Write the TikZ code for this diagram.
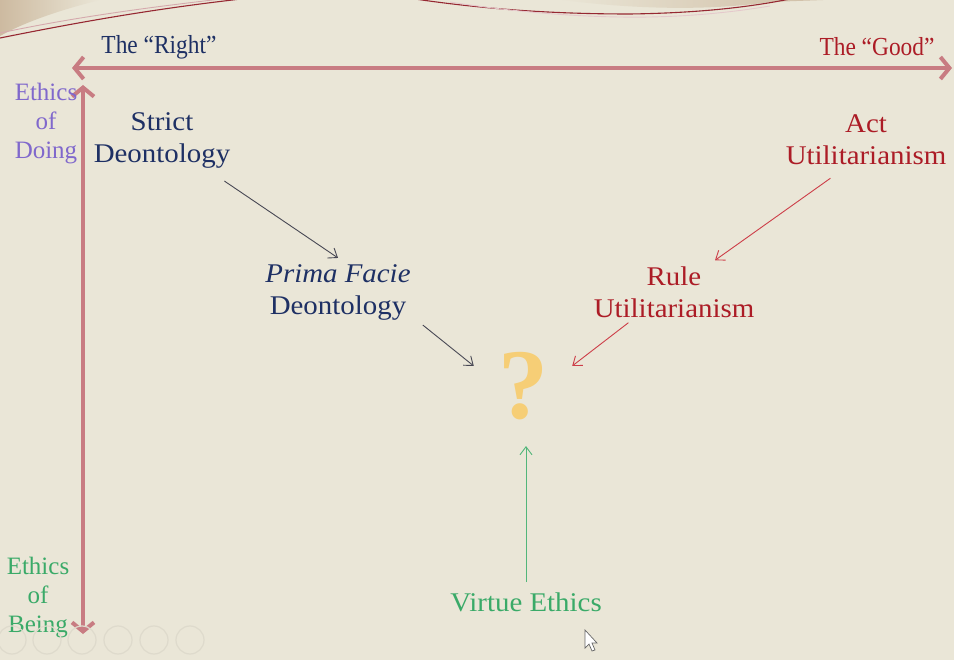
\documentclass[tikz,border=0pt]{standalone}
\usepackage{fontspec}
\setmainfont{Liberation Serif}
\newfontfamily\condfont[FakeStretch=0.9]{Liberation Serif}
\newfontfamily\widefont[FakeStretch=1.07]{Liberation Serif}
\usetikzlibrary{arrows.meta}

\definecolor{bgpaper}{RGB}{234,230,215}
\definecolor{navytext}{RGB}{30,48,100}
\definecolor{redtext}{RGB}{172,28,38}
\definecolor{purpletext}{RGB}{128,104,204}
\definecolor{greentext}{RGB}{58,170,104}
\definecolor{axisrose}{RGB}{200,124,130}
\definecolor{qgold}{RGB}{246,206,118}
\definecolor{greyarrow}{RGB}{72,72,84}
\definecolor{redarrow}{RGB}{205,62,72}
\definecolor{greenarrow}{RGB}{82,182,122}
\definecolor{swoosh}{RGB}{150,40,50}
\definecolor{tan}{RGB}{205,186,160}
\definecolor{ctrl}{RGB}{222,218,204}

\tikzset{
  lbl/.style={inner sep=0pt, align=center, font=\widefont\fontsize{27}{32}\selectfont},
  side/.style={inner sep=0pt, align=center, font=\fontsize{25}{29}\selectfont},
  head/.style={inner sep=0pt, font=\condfont\fontsize{26}{30}\selectfont},
  axis/.style={axisrose, line width=4.5pt,
    {Straight Barb[length=9pt,width=22pt,line width=4pt]}-{Straight Barb[length=9pt,width=22pt,line width=4pt]}},
  link/.style={line width=0.9pt, -{Straight Barb[length=8pt,width=12pt,line width=0.9pt]}},
}

\begin{document}
\begin{tikzpicture}[x=1pt,y=-1pt]
  % paper
  \fill[bgpaper] (0,0) rectangle (954,660);
  \useasboundingbox (0,0) rectangle (954,660);

  % decorative swooshes along the top edge
  \shade[left color=tan, right color=bgpaper]
    (0,0) -- (100,0) .. controls (60,10) and (25,22) .. (0,36) -- cycle;
  \draw[swoosh, line width=1.1pt] (0,38) .. controls (70,24) and (150,9) .. (250,-2);
  \draw[swoosh!40, line width=0.9pt] (0,33) .. controls (80,16) and (160,6) .. (230,-2);
  \shade[left color=bgpaper, right color=tan]
    (555,-1) .. controls (620,8) and (700,12) .. (770,2) -- (850,-1) -- cycle;
  \draw[swoosh, line width=1.1pt] (415,-1) .. controls (490,10) and (560,14) .. (630,14)
    .. controls (700,13) and (750,7) .. (790,-1);
  \draw[swoosh!25, line width=0.9pt] (450,2) .. controls (520,13) and (590,18) .. (650,17)
    .. controls (700,16) and (740,11) .. (770,6);

  % axes
  \coordinate (hl) at (72,68);
  \coordinate (hr) at (952,68);
  \coordinate (vt) at (83,85);
  \coordinate (vb) at (83,634);
  \draw[axis] (hl) -- (hr);
  \draw[axis] (vt) -- (vb);

  % axis labels
  \node[head, text=navytext] (right) at (159,47) {The “Right”};
  \node[head, text=redtext]  (good)  at (877,47) {The “Good”};
  \node[side, text=purpletext] (doing) at (46,124) {Ethics\\of\\Doing};
  \node[side, text=greentext]  (being) at (38,598) {Ethics\\of\\Being};

  % positions
  \node[lbl, text=navytext] (sd)  at (162,140) {Strict\\Deontology};
  \node[lbl, text=redtext]  (au)  at (866,140) {Act\\Utilitarianism};
  \node[lbl, text=navytext] (pf)  at (338,292) {\itshape Prima Facie\\Deontology};
  \node[lbl, text=redtext]  (ru)  at (674,292) {Rule\\Utilitarianism};
  \node[inner sep=0pt, text=qgold, font=\bfseries\fontsize{100}{100}\selectfont] (q) at (523,386) {?};
  \node[lbl, text=greentext] (ve) at (526,602) {Virtue Ethics};

  % connectors
  \draw[link, greyarrow] ([shift={(-6,13)}]sd.south east) -- ([shift={(0,-6)}]pf.north);
  \draw[link, redarrow]  ([shift={(-116,13)}]au.south east) -- ([shift={(41,-6)}]ru.north);
  \draw[link, greyarrow] ([shift={(12,5)}]pf.south east) -- ([shift={(-24,-20)}]q.west);
  \draw[link, redarrow]  ([shift={(-126,5)}]ru.south east) -- ([shift={(24,-20)}]q.east);
  \draw[link, greenarrow] ([shift={(0,-10)}]ve.north) -- ([shift={(3,26)}]q.south);

  % slideshow controls
  \foreach \cx in {12,47,82,118,154,190}
    \draw[ctrl, line width=1.2pt] (\cx,640) circle (14);

  % pointer
  \draw[fill=white, draw=black!60, line width=0.7pt]
    (585,630) -- (585,648) -- (589,644) -- (592,651) -- (595,650) -- (592,643) -- (597,643) -- cycle;
\end{tikzpicture}
\end{document}
